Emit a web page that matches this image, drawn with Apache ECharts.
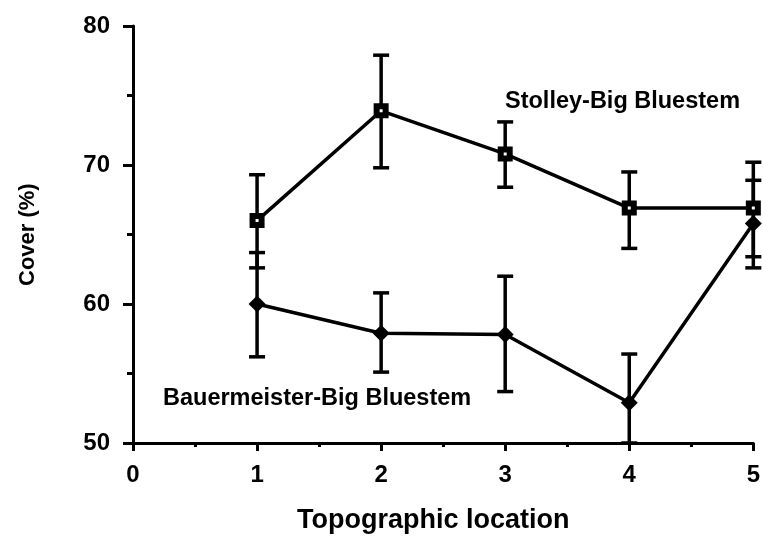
<!DOCTYPE html>
<html>
<head>
<meta charset="utf-8">
<script src="https://cdn.jsdelivr.net/npm/echarts@6/dist/echarts.min.js"></script>
<style>html,body{margin:0;padding:0;background:#fff}#c{width:763px;height:538px}</style>
</head>
<body>
<div id="c"></div>
<script>
const locations = [1, 2, 3, 4, 5];
const stolleyMean = [66.0, 73.9, 70.8, 66.9, 66.9];
const stolleyHigh = [69.3, 77.9, 73.1, 69.5, 70.2];
const stolleyLow  = [62.6, 69.8, 68.4, 64.0, 63.4];
const bauerMean = [60.0, 57.9, 57.8, 52.9, 65.8];
const bauerHigh = [63.7, 60.8, 62.0, 56.4, 68.9];
const bauerLow  = [56.2, 55.1, 53.7, 50.0, 62.6];
const xTicks = ['0', '1', '2', '3', '4', '5'];
const yTicks = ['50', '60', '70', '80'];

const FONT = 'Liberation Sans';

function pairs(xs, ys) { return xs.map((x, i) => [x, ys[i]]); }
function errData(xs, lo, hi) { return xs.map((x, i) => [x, lo[i], hi[i]]); }

function errRender(params, api) {
  const x = api.value(0);
  const lo = api.coord([x, api.value(1)]);
  const hi = api.coord([x, api.value(2)]);
  const w = 8;
  const st = { stroke: '#000', lineWidth: 3.5 };
  return {
    type: 'group',
    children: [
      { type: 'line', shape: { x1: hi[0], y1: hi[1], x2: lo[0], y2: lo[1] }, style: st },
      { type: 'line', shape: { x1: hi[0] - w, y1: hi[1], x2: hi[0] + w, y2: hi[1] }, style: st },
      { type: 'line', shape: { x1: lo[0] - w, y1: lo[1], x2: lo[0] + w, y2: lo[1] }, style: st }
    ]
  };
}

const chart = echarts.init(document.getElementById('c'), null, { renderer: 'canvas' });
const axisText = { color: '#000', fontFamily: FONT, fontWeight: 'bold', fontSize: 24 };

chart.setOption({
  animation: false,
  backgroundColor: '#fff',
  grid: { left: 133, right: 6, top: 26, bottom: 95, containLabel: false },
  xAxis: {
    type: 'value', min: 0, max: 5, interval: 1,
    axisLine: { lineStyle: { color: '#000', width: 3 } },
    axisTick: { show: true, inside: false, length: 8, lineStyle: { color: '#000', width: 3 } },
    minorTick: { show: true, splitNumber: 2, length: 4, lineStyle: { color: '#000', width: 3 } },
    splitLine: { show: false },
    axisLabel: Object.assign({ margin: 20, formatter: v => xTicks[Math.round(v)] }, axisText)
  },
  yAxis: {
    type: 'value', min: 50, max: 80, interval: 10,
    axisLine: { lineStyle: { color: '#000', width: 3 } },
    axisTick: { show: true, inside: false, length: 10, lineStyle: { color: '#000', width: 3 } },
    minorTick: { show: true, splitNumber: 2, length: 6, lineStyle: { color: '#000', width: 3 } },
    splitLine: { show: false },
    axisLabel: Object.assign({ margin: 23, formatter: v => yTicks[Math.round((v - 50) / 10)] }, axisText)
  },
  graphic: [
    { type: 'text', left: 505, top: 90, style: { text: 'Stolley-Big Bluestem', fill: '#000', font: 'bold 23.5px "' + FONT + '"' } },
    { type: 'text', left: 163, top: 387, style: { text: 'Bauermeister-Big Bluestem', fill: '#000', font: 'bold 23.5px "' + FONT + '"' } },
    { type: 'text', left: 297, top: 507, style: { text: 'Topographic location', fill: '#000', font: 'bold 27px "' + FONT + '"' } },
    { type: 'text', x: 17, y: 286, rotation: Math.PI / 2, style: { text: 'Cover (%)', fill: '#000', font: 'bold 22px "' + FONT + '"' } }
  ],
  series: [
    { type: 'custom', name: 'sErr', renderItem: errRender, data: errData(locations, stolleyLow, stolleyHigh), clip: false, z: 1 },
    { type: 'custom', name: 'bErr', renderItem: errRender, data: errData(locations, bauerLow, bauerHigh), clip: false, z: 1 },
    {
      type: 'line', name: 'Stolley-Big Bluestem', data: pairs(locations, stolleyMean), z: 3,
      lineStyle: { color: '#000', width: 3.5 },
      symbol: 'rect', symbolSize: 9, showAllSymbol: true,
      itemStyle: { color: '#fff', borderColor: '#000', borderWidth: 6 }
    },
    {
      type: 'line', name: 'Bauermeister-Big Bluestem', data: pairs(locations, bauerMean), z: 3,
      lineStyle: { color: '#000', width: 3.5 },
      symbol: 'diamond', symbolSize: 17, showAllSymbol: true,
      itemStyle: { color: '#000', borderColor: '#000', borderWidth: 0 }
    }
  ]
});
</script>
</body>
</html>
